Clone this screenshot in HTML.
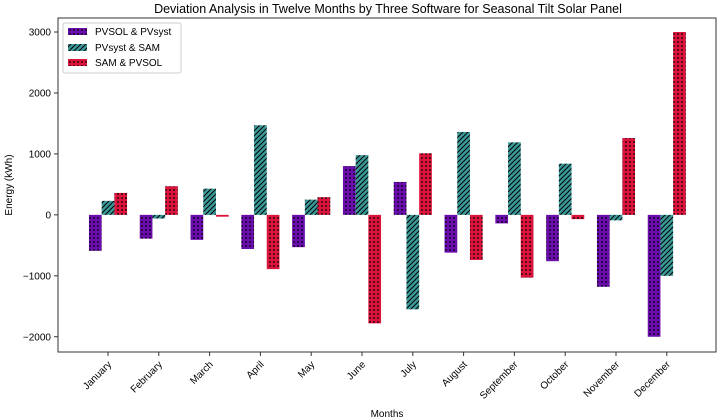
<!DOCTYPE html>
<html><head><meta charset="utf-8"><style>
body{margin:0;background:#fff;}
svg{font-family:"Liberation Sans","DejaVu Sans",sans-serif;display:block}
</style></head><body>
<svg id="c" width="719" height="420">
<defs>
<pattern id="dotP" width="4" height="4" patternUnits="userSpaceOnUse"><rect width="4" height="4" fill="#6a0dad"/><circle cx="2" cy="2" r="0.9" fill="#000"/></pattern>
<pattern id="dotR" width="4" height="4" patternUnits="userSpaceOnUse"><rect width="4" height="4" fill="#dc143c"/><circle cx="2" cy="2" r="0.9" fill="#000"/></pattern>
<pattern id="hatT" width="5" height="5" patternUnits="userSpaceOnUse"><rect width="5" height="5" fill="#3a9a9a"/><path d="M-1,6 L6,-1 M-1,1 L1,-1 M4,6 L6,4" stroke="#000" stroke-width="1"/></pattern>
</defs>
<text x="388" y="13" text-anchor="middle" font-size="12.5">Deviation Analysis in Twelve Months by Three Software for Seasonal Tilt Solar Panel</text>
<text transform="translate(12,185) rotate(-90)" text-anchor="middle" font-size="10">Energy (kWh)</text>
<text x="387" y="417" text-anchor="middle" font-size="10">Months</text>
<g id="bars"></g>
<g id="axes"></g>
<g id="legend">
<rect x="63" y="23" width="118" height="50" fill="#fff" stroke="#ccc" rx="2"/>
<g><rect x="68" y="28" width="19" height="7" fill="url(#dotP)"/><text x="95" y="35" font-size="10">PVSOL &amp; PVsyst</text></g>
<g><rect x="68" y="44" width="19" height="7" fill="url(#hatT)"/><text x="95" y="51" font-size="10">PVsyst &amp; SAM</text></g>
<g><rect x="68" y="59" width="19" height="7" fill="url(#dotR)"/><text x="95" y="66" font-size="10">SAM &amp; PVSOL</text></g>
</g>
</svg>
<script>
const months=["January","February","March","April","May","June","July","August","September","October","November","December"];
const pvsolPvsyst=[-590,-390,-410,-560,-530,800,540,-620,-140,-760,-1180,-2000];
const pvsystSam=[230,-60,430,1470,250,980,-1550,1360,1190,840,-90,-1000];
const samPvsol=[360,470,-30,-890,290,-1780,1010,-740,-1030,-70,1260,3000];
const yTicks=[-2000,-1000,0,1000,2000,3000];
const L=58,R=716,T=18,B=352,yMin=-2250,yMax=3230;
const step=50.8,x0=108,bw=12.7;
const ns="http://www.w3.org/2000/svg";
function y(v){return B-(v-yMin)/(yMax-yMin)*(B-T);}
function x(i){return x0+i*step;}
const bars=document.getElementById('bars'),axes=document.getElementById('axes');
function mk(t,a,p){const e=document.createElementNS(ns,t);for(const k in a)e.setAttribute(k,a[k]);p.appendChild(e);return e;}
const series=[[pvsolPvsyst,"url(#dotP)","pvsol-pvsyst"],[pvsystSam,"url(#hatT)","pvsyst-sam"],[samPvsol,"url(#dotR)","sam-pvsol"]];
series.forEach((s,si)=>{s[0].forEach((v,i)=>{
 const bx=x(i)+(si-1.5)*bw;const y1=y(Math.max(v,0)),y2=y(Math.min(v,0));
 const r=mk('rect',{x:bx,y:y1,width:bw,height:Math.max(y2-y1,0.8),fill:s[1]},bars);
 
 
});});
const fr=mk('rect',{x:L,y:T,width:R-L,height:B-T,fill:'none',stroke:'#333','stroke-width':1},axes);


yTicks.forEach(v=>{
 mk('line',{x1:L-4,x2:L,y1:y(v),y2:y(v),stroke:'#333'},axes);
 const t=mk('text',{x:L-7,y:y(v)+3.5,'text-anchor':'end','font-size':10},axes);
 t.textContent=v<0?'\u2212'+(-v):v;
 
 
});
months.forEach((m,i)=>{
 mk('line',{x1:x(i),x2:x(i),y1:B,y2:B+4,stroke:'#333'},axes);
 const t=mk('text',{x:x(i)+4,y:B+13,'text-anchor':'end','font-size':10,transform:`rotate(-45 ${x(i)+4} ${B+13})`},axes);
 t.textContent=m;
 
 
});
</script>
</body></html>
